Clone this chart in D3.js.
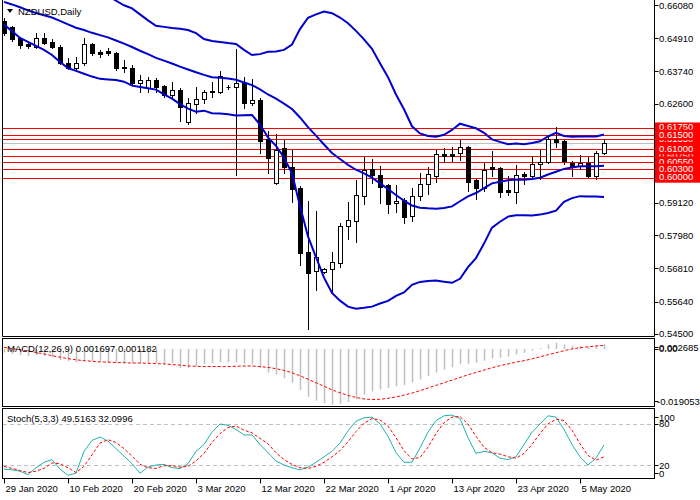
<!DOCTYPE html>
<html>
<head>
<meta charset="utf-8">
<script src="https://cdn.jsdelivr.net/npm/d3@7"></script>
<style>
body { margin: 0; background: #fff; }
svg { display: block; }
text { font-family: "Liberation Sans", Arial, sans-serif; font-size: 9.5px; }
</style>
</head>
<body>
<svg id="chart" width="700" height="500"></svg>
<script>
// ---- data ----
var dateLabels = ["29 Jan 2020", "10 Feb 2020", "20 Feb 2020", "3 Mar 2020", "12 Mar 2020",
    "22 Mar 2020", "1 Apr 2020", "13 Apr 2020", "23 Apr 2020", "5 May 2020"];
var dateLabelBars = [0, 8, 16, 24, 32, 40, 48, 56, 64, 72];

var open = [0.6552,0.6531,0.6492,0.6469,0.6460,0.6492,0.6478,0.6460,0.6404,0.6386,
    0.6404,0.6471,0.6441,0.6446,0.6439,0.6388,0.6386,0.6333,0.6316,0.6344,
    0.6323,0.6291,0.6309,0.6196,0.6260,0.6277,0.6305,0.6303,0.6321,0.6318,
    0.6338,0.6264,0.6274,0.6135,0.5983,0.6104,0.6037,0.5963,0.5740,0.5673,
    0.5668,0.5678,0.5701,0.5830,0.5849,0.5937,0.6030,0.6010,0.5974,0.5910,
    0.5922,0.5866,0.5937,0.5977,0.6006,0.6084,0.6084,0.6086,0.6109,0.5992,
    0.5963,0.6037,0.6033,0.5957,0.5949,0.6013,0.6007,0.6048,0.6054,0.6135,
    0.6129,0.6053,0.6042,0.6053,0.6006,0.6086];
var high = [0.6562,0.6534,0.6495,0.6478,0.6509,0.6509,0.6488,0.6467,0.6421,0.6425,
    0.6492,0.6474,0.6450,0.6457,0.6443,0.6414,0.6397,0.6362,0.6355,0.6351,
    0.6326,0.6337,0.6316,0.6281,0.6319,0.6309,0.6338,0.6376,0.6326,0.6452,
    0.6354,0.6347,0.6280,0.6166,0.6153,0.6133,0.6098,0.5971,0.5919,0.5884,
    0.5682,0.5740,0.5842,0.5916,0.5992,0.6074,0.6065,0.6041,0.5978,0.5974,
    0.5928,0.5963,0.6016,0.6039,0.6098,0.6104,0.6109,0.6133,0.6112,0.5995,
    0.6053,0.6095,0.6039,0.6006,0.6045,0.6021,0.6077,0.6098,0.6144,0.6178,
    0.6133,0.6060,0.6080,0.6074,0.6095,0.6135];
var low = [0.6502,0.6481,0.6457,0.6457,0.6457,0.6471,0.6457,0.6402,0.6383,0.6379,
    0.6397,0.6432,0.6425,0.6432,0.6379,0.6372,0.6326,0.6302,0.6302,0.6302,
    0.6284,0.6281,0.6200,0.6189,0.6228,0.6264,0.6284,0.6298,0.6314,0.6010,
    0.6244,0.6256,0.6086,0.6018,0.5978,0.6016,0.5916,0.5693,0.5467,0.5605,
    0.5663,0.5593,0.5685,0.5783,0.5775,0.5908,0.5983,0.5910,0.5877,0.5880,
    0.5842,0.5849,0.5922,0.5942,0.5986,0.6056,0.6060,0.6062,0.5954,0.5924,
    0.5954,0.6006,0.5933,0.5939,0.5910,0.5978,0.6002,0.5995,0.6051,0.6107,
    0.6047,0.6006,0.6030,0.6002,0.5995,0.6084];
var close = [0.6509,0.6488,0.6467,0.6465,0.6492,0.6474,0.6460,0.6404,0.6386,0.6404,
    0.6471,0.6439,0.6437,0.6439,0.6386,0.6385,0.6333,0.6344,0.6344,0.6319,
    0.6291,0.6309,0.6249,0.6263,0.6277,0.6302,0.6300,0.6358,0.6319,0.6335,
    0.6264,0.6274,0.6130,0.6068,0.6098,0.6037,0.5959,0.5736,0.5666,0.5720,
    0.5677,0.5703,0.5830,0.5851,0.5939,0.6027,0.6010,0.5966,0.5906,0.5918,
    0.5863,0.5937,0.5978,0.6013,0.6084,0.6078,0.6078,0.6107,0.5986,0.5963,
    0.6027,0.6031,0.5951,0.5949,0.6010,0.6007,0.6048,0.6055,0.6135,0.6127,
    0.6059,0.6042,0.6053,0.6006,0.6086,0.6121];

var bbUpper = [0.6700,0.6703,0.6708,0.6703,0.6700,0.6695,0.6696,0.6696,0.6695,0.6685,
    0.6674,0.6664,0.6656,0.6640,0.6623,0.6607,0.6596,0.6575,0.6554,0.6535,
    0.6531,0.6527,0.6524,0.6520,0.6509,0.6488,0.6481,0.6478,0.6474,0.6471,
    0.6450,0.6432,0.6435,0.6443,0.6444,0.6450,0.6469,0.6523,0.6563,0.6575,
    0.6585,0.6579,0.6564,0.6544,0.6517,0.6487,0.6454,0.6403,0.6354,0.6293,
    0.6241,0.6181,0.6156,0.6147,0.6144,0.6151,0.6168,0.6190,0.6182,0.6174,
    0.6158,0.6135,0.6126,0.6118,0.6120,0.6118,0.6122,0.6128,0.6145,0.6158,
    0.6147,0.6144,0.6145,0.6145,0.6145,0.6152];
var bbMiddle = [0.6619,0.6610,0.6600,0.6589,0.6580,0.6572,0.6564,0.6552,0.6540,0.6528,
    0.6520,0.6510,0.6502,0.6494,0.6483,0.6472,0.6460,0.6447,0.6435,0.6422,
    0.6412,0.6402,0.6391,0.6381,0.6371,0.6362,0.6354,0.6352,0.6349,0.6345,
    0.6335,0.6326,0.6311,0.6293,0.6278,0.6261,0.6242,0.6212,0.6178,0.6148,
    0.6117,0.6087,0.6066,0.6045,0.6028,0.6015,0.6000,0.5980,0.5960,0.5939,
    0.5919,0.5902,0.5894,0.5892,0.5891,0.5893,0.5899,0.5917,0.5934,0.5946,
    0.5963,0.5980,0.5986,0.5991,0.5994,0.5993,0.5995,0.6000,0.6011,0.6021,
    0.6031,0.6036,0.6040,0.6040,0.6040,0.6042];
var bbLower = [0.6539,0.6516,0.6492,0.6478,0.6464,0.6450,0.6432,0.6407,0.6386,0.6376,
    0.6366,0.6356,0.6348,0.6346,0.6344,0.6338,0.6324,0.6319,0.6315,0.6310,
    0.6293,0.6278,0.6259,0.6243,0.6232,0.6236,0.6227,0.6226,0.6223,0.6219,
    0.6220,0.6221,0.6187,0.6142,0.6112,0.6071,0.6015,0.5900,0.5793,0.5720,
    0.5648,0.5594,0.5567,0.5546,0.5539,0.5542,0.5546,0.5557,0.5566,0.5584,
    0.5596,0.5623,0.5633,0.5636,0.5638,0.5634,0.5630,0.5644,0.5685,0.5717,
    0.5768,0.5824,0.5845,0.5863,0.5868,0.5868,0.5867,0.5870,0.5876,0.5884,
    0.5915,0.5928,0.5935,0.5934,0.5934,0.5932];

var levels = [0.6175, 0.6150, 0.6135, 0.6100, 0.6075, 0.6055, 0.6030, 0.6000];
// labels of 0.6135 and 0.6075 sit underneath the others on the axis
var levelLabelOrder = [0.6135, 0.6075, 0.6175, 0.6150, 0.6100, 0.6055, 0.6030, 0.6000];
var bid = 0.6121;
var priceTicks = [0.66080, 0.64910, 0.63740, 0.62600, 0.59120, 0.57980, 0.56810, 0.55640, 0.54500];

var macdMax = 0.002685, macdMin = -0.019053;
var macdMain = [-0.0012,-0.0017,-0.0021,-0.0024,-0.0021,-0.0024,-0.0028,-0.0038,-0.0041,-0.0045,
    -0.0038,-0.0041,-0.0041,-0.0045,-0.0045,-0.0048,-0.0048,-0.0048,-0.0048,-0.0048,
    -0.0049,-0.0048,-0.0065,-0.0065,-0.0058,-0.0051,-0.0048,-0.0045,-0.0045,-0.0045,
    -0.0050,-0.0052,-0.0065,-0.0080,-0.0088,-0.0100,-0.0115,-0.0140,-0.0163,-0.0176,
    -0.0185,-0.0190,-0.0186,-0.0180,-0.0170,-0.0156,-0.0145,-0.0138,-0.0133,-0.0127,
    -0.0123,-0.0114,-0.0104,-0.0093,-0.0080,-0.0070,-0.0062,-0.0052,-0.0050,-0.0047,
    -0.0040,-0.0033,-0.0030,-0.0027,-0.0019,-0.0013,-0.0006,0.0003,0.0016,0.0021,
    0.0015,0.0011,0.0010,0.0006,0.0011,0.001697];
var macdSignal = [0.0005,0.0001,-0.0003,-0.0007,-0.0012,-0.0017,-0.0023,-0.0028,-0.0033,-0.0037,
    -0.0040,-0.0042,-0.0044,-0.0045,-0.0046,-0.0047,-0.0048,-0.0048,-0.0049,-0.0050,
    -0.0051,-0.0053,-0.0055,-0.0058,-0.0059,-0.0060,-0.0060,-0.0060,-0.0060,-0.0059,
    -0.0058,-0.0058,-0.0060,-0.0063,-0.0067,-0.0073,-0.0081,-0.0091,-0.0103,-0.0115,
    -0.0127,-0.0139,-0.0149,-0.0158,-0.0165,-0.0170,-0.0172,-0.0171,-0.0168,-0.0163,
    -0.0157,-0.0150,-0.0142,-0.0133,-0.0124,-0.0115,-0.0106,-0.0097,-0.0088,-0.0080,
    -0.0072,-0.0064,-0.0057,-0.0051,-0.0045,-0.0040,-0.0034,-0.0027,-0.0020,-0.0013,
    -0.0006,0.0000,0.0004,0.0007,0.0010,0.001182];

var stochMain = [14,13,11,6,16,24,28,14,5,8,
    40,56,61,55,44,33,22,8,17,20,
    21,16,15,22,40,50,68,80,78,72,
    64,64,50,38,26,20,16,13,17,24,
    32,40,52,70,84,89,90,80,62,38,
    24,24,45,68,85,92,93,88,60,37,
    40,38,30,28,32,50,68,80,92,90,
    72,50,32,20,30,49.5163];
var stochSignal = [18,15,12,9,11,15,23,22,16,9,
    18,35,52,57,53,44,33,21,16,15,
    19,19,17,18,26,37,53,66,75,77,
    71,67,59,51,38,28,21,16,15,18,
    24,32,41,54,69,81,88,86,77,60,
    41,29,31,46,66,82,90,91,80,62,
    46,38,36,32,30,37,50,66,80,87,
    85,71,51,34,27,32.0996];

// ---- layout ----
var svg = d3.select("#chart");
var axisX = 654.5, leftX = 2.5;
var main = { top: 0, bottom: 336.5 },
    macdP = { top: 338.5, bottom: 406.5 },
    stochP = { top: 408.5, bottom: 478.5 };

var x = d3.scaleLinear().domain([0, 75]).range([4, 604]);
var y = d3.scaleLinear().domain([0.545, 0.6608]).range([333.9, 5]);
var yMacd = d3.scaleLinear().domain([macdMin, macdMax]).range([405, 341]);
var yStoch = d3.scaleLinear().domain([0, 100]).range([478.7, 410.3]);

function cx(i) { return Math.round(x(i)) + 0.5; }
function crisp(v) { return Math.round(v) + 0.5; }

var defs = svg.append("defs");
defs.append("clipPath").attr("id", "clipMain").append("rect")
    .attr("x", 3).attr("y", 0).attr("width", axisX - 3).attr("height", main.bottom);
defs.append("clipPath").attr("id", "clipMacd").append("rect")
    .attr("x", 3).attr("y", macdP.top + 0.5).attr("width", axisX - 3).attr("height", macdP.bottom - macdP.top - 1);
defs.append("clipPath").attr("id", "clipStoch").append("rect")
    .attr("x", 3).attr("y", stochP.top + 0.5).attr("width", axisX - 3).attr("height", stochP.bottom - stochP.top - 1);

// ---- main panel ----
var gMain = svg.append("g").attr("clip-path", "url(#clipMain)");

gMain.selectAll(".level")
    .data(levels)
    .enter()
    .append("line")
    .attr("x1", 3).attr("x2", axisX)
    .attr("y1", function(d) { return crisp(y(d)); })
    .attr("y2", function(d) { return crisp(y(d)); })
    .attr("stroke", "#ff0000")
    .attr("stroke-width", 1);

gMain.append("line")
    .attr("x1", 3).attr("x2", axisX)
    .attr("y1", crisp(y(bid))).attr("y2", crisp(y(bid)))
    .attr("stroke", "#c0c0c0")
    .attr("stroke-width", 1);

var bars = d3.range(open.length);

gMain.selectAll(".wick")
    .data(bars)
    .enter()
    .append("line")
    .attr("x1", cx).attr("x2", cx)
    .attr("y1", function(i) { return Math.round(y(high[i])); })
    .attr("y2", function(i) { return Math.round(y(low[i])) + 1; })
    .attr("stroke", "#000")
    .attr("stroke-width", 1);

bars.forEach(function(i) {
    var top = crisp(y(Math.max(open[i], close[i]))),
        bot = crisp(y(Math.min(open[i], close[i])));
    if (bot - top < 1) {
        gMain.append("line")
            .attr("x1", cx(i) - 2).attr("x2", cx(i) + 2)
            .attr("y1", top).attr("y2", top)
            .attr("stroke", "#000");
    } else {
        gMain.append("rect")
            .attr("x", cx(i) - 2)
            .attr("y", top)
            .attr("width", 4)
            .attr("height", bot - top)
            .attr("fill", close[i] >= open[i] ? "#fff" : "#000")
            .attr("stroke", "#000")
            .attr("stroke-width", 1);
    }
});

var bandLine = d3.line()
    .x(function(d, i) { return x(i); })
    .y(function(d) { return y(d); });

[bbUpper, bbMiddle, bbLower].forEach(function(band) {
    gMain.append("path")
        .datum(band)
        .attr("fill", "none")
        .attr("stroke", "#0000cd")
        .attr("stroke-width", 2)
        .attr("d", bandLine);
});

// ---- MACD panel ----
var gMacd = svg.append("g").attr("clip-path", "url(#clipMacd)");

gMacd.selectAll(".hist")
    .data(macdMain)
    .enter()
    .append("line")
    .attr("x1", function(d, i) { return cx(i); })
    .attr("x2", function(d, i) { return cx(i); })
    .attr("y1", yMacd(0))
    .attr("y2", function(d) { return yMacd(d); })
    .attr("stroke", "#c0c0c0")
    .attr("stroke-width", 1.5);

gMacd.append("path")
    .datum(macdSignal)
    .attr("fill", "none")
    .attr("stroke", "#ff0000")
    .attr("stroke-width", 1)
    .attr("stroke-dasharray", "3,2")
    .attr("d", d3.line()
        .x(function(d, i) { return x(i); })
        .y(function(d) { return yMacd(d); }));

// ---- Stochastic panel ----
var gStoch = svg.append("g").attr("clip-path", "url(#clipStoch)");

gStoch.selectAll(".slevel")
    .data([80, 20])
    .enter()
    .append("line")
    .attr("x1", 3).attr("x2", axisX)
    .attr("y1", function(d) { return crisp(yStoch(d)); })
    .attr("y2", function(d) { return crisp(yStoch(d)); })
    .attr("stroke", "#c0c0c0")
    .attr("stroke-dasharray", "4,3");

var stochLine = d3.line()
    .x(function(d, i) { return x(i); })
    .y(function(d) { return yStoch(d); });

gStoch.append("path")
    .datum(stochMain)
    .attr("fill", "none")
    .attr("stroke", "#20b2aa")
    .attr("stroke-width", 1)
    .attr("d", stochLine);

gStoch.append("path")
    .datum(stochSignal)
    .attr("fill", "none")
    .attr("stroke", "#ff0000")
    .attr("stroke-width", 1)
    .attr("stroke-dasharray", "3,2")
    .attr("d", stochLine);

// ---- frames ----
svg.append("path")
    .attr("fill", "none").attr("stroke", "#000").attr("stroke-width", 1)
    .attr("d", "M" + leftX + ",0V" + main.bottom + "H" + axisX + "V0");
[macdP, stochP].forEach(function(p) {
    svg.append("rect")
        .attr("x", leftX).attr("y", p.top)
        .attr("width", axisX - leftX).attr("height", p.bottom - p.top)
        .attr("fill", "none").attr("stroke", "#000").attr("stroke-width", 1);
});

// ---- right price axis ----
svg.selectAll(".ptick")
    .data(priceTicks)
    .enter()
    .append("line")
    .attr("x1", axisX).attr("x2", axisX + 4)
    .attr("y1", function(d) { return crisp(y(d)); })
    .attr("y2", function(d) { return crisp(y(d)); })
    .attr("stroke", "#000");

svg.selectAll(".plabel")
    .data(priceTicks)
    .enter()
    .append("text")
    .attr("x", 659)
    .attr("y", function(d) { return y(d) + 3.5; })
    .attr("fill", "#000")
    .text(function(d) { return d.toFixed(5); });

levelLabelOrder.forEach(function(l) {
    svg.append("rect")
        .attr("x", 655).attr("y", y(l) - 5.5)
        .attr("width", 45).attr("height", 10.5)
        .attr("fill", "#ff0000");
    svg.append("text")
        .attr("x", 659).attr("y", y(l) + 2.5)
        .attr("fill", "#fff")
        .text(l.toFixed(5));
});

// MACD axis labels
var macdLabels = [
    { v: macdMax, t: "0.002685", dy: 6 },
    { v: 0, t: "0.00", dy: 0 },
    { v: macdMin, t: "-0.019053", dy: -4 }
];
macdLabels.forEach(function(m) {
    svg.append("line")
        .attr("x1", axisX).attr("x2", axisX + 4)
        .attr("y1", crisp(yMacd(m.v) + m.dy)).attr("y2", crisp(yMacd(m.v) + m.dy))
        .attr("stroke", "#000");
    svg.append("text")
        .attr("x", m.v < 0 ? 657 : 659)
        .attr("y", yMacd(m.v) + m.dy + 3.5)
        .text(m.t);
});

// Stoch axis labels
var stochLabels = [
    { v: 100, dy: 6.7 }, { v: 80, dy: 0 }, { v: 20, dy: 0 }, { v: 0, dy: -5.7 }
];
stochLabels.forEach(function(s) {
    svg.append("line")
        .attr("x1", axisX).attr("x2", axisX + 4)
        .attr("y1", crisp(yStoch(s.v) + s.dy)).attr("y2", crisp(yStoch(s.v) + s.dy))
        .attr("stroke", "#000");
    svg.append("text")
        .attr("x", 659)
        .attr("y", yStoch(s.v) + s.dy + 3.5)
        .text(s.v);
});

// ---- date axis ----
svg.selectAll(".dtick")
    .data(dateLabelBars)
    .enter()
    .append("line")
    .attr("x1", cx).attr("x2", cx)
    .attr("y1", stochP.bottom).attr("y2", stochP.bottom + 5)
    .attr("stroke", "#000");

svg.selectAll(".dlabel")
    .data(dateLabelBars)
    .enter()
    .append("text")
    .attr("x", function(i) { return cx(i) + 1; })
    .attr("y", 491.5)
    .text(function(i, k) { return dateLabels[k]; });

// ---- panel titles ----
svg.append("path")
    .attr("d", "M7,9L13,9L10,13Z")
    .attr("fill", "#000");
svg.append("text").attr("x", 18).attr("y", 15).text("NZDUSD,Daily");
svg.append("text").attr("x", 7).attr("y", 351.8)
    .text("MACD(12,26,9) " + macdMain[macdMain.length - 1].toFixed(6) + " " + macdSignal[macdSignal.length - 1].toFixed(6));
svg.append("text").attr("x", 7).attr("y", 421.8)
    .text("Stoch(5,3,3) " + stochMain[stochMain.length - 1].toFixed(4) + " " + stochSignal[stochSignal.length - 1].toFixed(4));
</script>
</body>
</html>
